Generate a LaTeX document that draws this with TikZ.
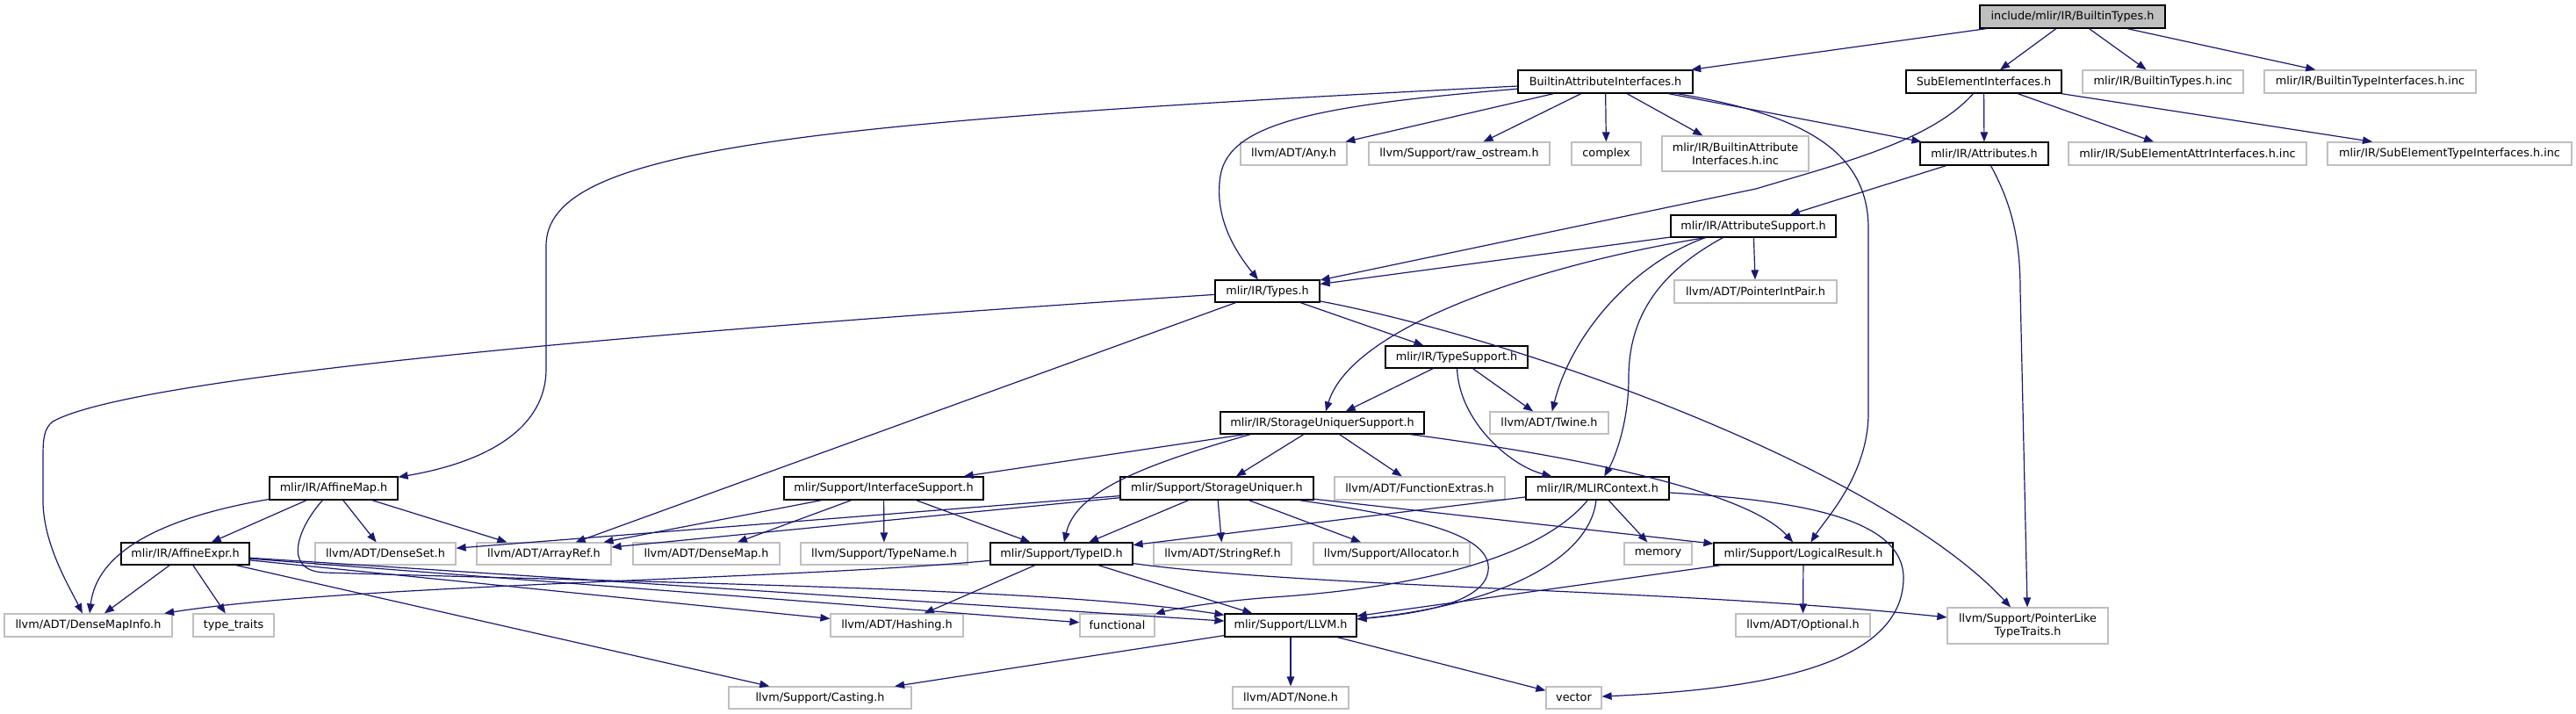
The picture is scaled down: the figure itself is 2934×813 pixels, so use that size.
\documentclass[tikz,border=0pt]{standalone}
\usepackage{fontspec}
\setmainfont{DejaVu Sans}
\usetikzlibrary{arrows.meta}
\definecolor{eblue}{HTML}{191970}
\definecolor{gborder}{HTML}{BFBFBF}
\definecolor{rootfill}{HTML}{BFBFBF}
\tikzset{
  box/.style={rectangle, inner sep=0pt, align=center, text=black, line width=1.2pt,
    font=\fontsize{12.8pt}{15.5pt}\selectfont},
  nb/.style={box, draw=black},
  ng/.style={box, draw=gborder},
  nroot/.style={box, draw=black, fill=rootfill},
  edge/.style={draw=eblue, line width=1.2pt, -{Triangle[length=11pt,width=8.5pt]}},
}
\begin{document}
\begin{tikzpicture}[x=1pt,y=-1pt]
\useasboundingbox (0,0) rectangle (2934,813);
% row 0
\node[nroot, minimum width=211pt, minimum height=26pt] (root) at (2360.5,19) {include/mlir/IR/BuiltinTypes.h};
% row 1
\node[nb, minimum width=199pt, minimum height=26pt] (bai) at (1828.5,93) {BuiltinAttributeInterfaces.h};
\node[nb, minimum width=177pt, minimum height=26pt] (sei) at (2259.5,93) {SubElementInterfaces.h};
\node[ng, minimum width=183pt, minimum height=26pt] (btinc) at (2463.5,93) {mlir/IR/BuiltinTypes.h.inc};
\node[ng, minimum width=241pt, minimum height=26pt] (btiinc) at (2699.5,93) {mlir/IR/BuiltinTypeInterfaces.h.inc};
% row 2
\node[ng, minimum width=121pt, minimum height=26pt] (any) at (1473.5,175) {llvm/ADT/Any.h};
\node[ng, minimum width=206pt, minimum height=26pt] (raw) at (1662,175) {llvm/Support/raw\_ostream.h};
\node[ng, minimum width=79pt, minimum height=26pt] (complex) at (1829.5,175) {complex};
\node[ng, minimum width=167pt, minimum height=40pt] (baiinc) at (1976.5,175) {mlir/IR/BuiltinAttribute\\Interfaces.h.inc};
\node[nb, minimum width=146pt, minimum height=26pt] (attr) at (2260,175) {mlir/IR/Attributes.h};
\node[ng, minimum width=271pt, minimum height=26pt] (seainc) at (2491.5,175) {mlir/IR/SubElementAttrInterfaces.h.inc};
\node[ng, minimum width=278pt, minimum height=26pt] (setinc) at (2790,175) {mlir/IR/SubElementTypeInterfaces.h.inc};
% row 3
\node[nb, minimum width=188pt, minimum height=25pt] (attrsup) at (1997,257.5) {mlir/IR/AttributeSupport.h};
% row 4
\node[nb, minimum width=119pt, minimum height=25pt] (types) at (1443.5,331.5) {mlir/IR/Types.h};
\node[ng, minimum width=185pt, minimum height=26pt] (pip) at (1999.5,332) {llvm/ADT/PointerIntPair.h};
% row 5
\node[nb, minimum width=162pt, minimum height=25pt] (typesup) at (1659,406.5) {mlir/IR/TypeSupport.h};
% row 6
\node[nb, minimum width=232pt, minimum height=25pt] (sus) at (1506,481.5) {mlir/IR/StorageUniquerSupport.h};
\node[ng, minimum width=135pt, minimum height=25pt] (twine) at (1764.5,481.5) {llvm/ADT/Twine.h};
% row 7
\node[nb, minimum width=146pt, minimum height=26pt] (affmap) at (380,556) {mlir/IR/AffineMap.h};
\node[nb, minimum width=227pt, minimum height=26pt] (ifsup) at (1006.5,556) {mlir/Support/InterfaceSupport.h};
\node[nb, minimum width=220pt, minimum height=26pt] (su) at (1386,556) {mlir/Support/StorageUniquer.h};
\node[ng, minimum width=194pt, minimum height=26pt] (fext) at (1617,556) {llvm/ADT/FunctionExtras.h};
\node[nb, minimum width=163pt, minimum height=26pt] (ctx) at (1819.5,556) {mlir/IR/MLIRContext.h};
% row 8
\node[nb, minimum width=146pt, minimum height=25pt] (affexpr) at (211,630.5) {mlir/IR/AffineExpr.h};
\node[ng, minimum width=160pt, minimum height=25pt] (dset) at (439,630.5) {llvm/ADT/DenseSet.h};
\node[ng, minimum width=153pt, minimum height=25pt] (aref) at (619.5,630.5) {llvm/ADT/ArrayRef.h};
\node[ng, minimum width=167pt, minimum height=25pt] (dmap) at (804.5,630.5) {llvm/ADT/DenseMap.h};
\node[ng, minimum width=190pt, minimum height=25pt] (tname) at (1007,630.5) {llvm/Support/TypeName.h};
\node[nb, minimum width=162pt, minimum height=25pt] (typeid) at (1209,630.5) {mlir/Support/TypeID.h};
\node[ng, minimum width=157pt, minimum height=25pt] (sref) at (1392.5,630.5) {llvm/ADT/StringRef.h};
\node[ng, minimum width=178pt, minimum height=25pt] (alloc) at (1585,630.5) {llvm/Support/Allocator.h};
\node[ng, minimum width=77pt, minimum height=25pt] (memory) at (1888.5,630.5) {memory};
\node[nb, minimum width=204pt, minimum height=25pt] (lres) at (2054,630.5) {mlir/Support/LogicalResult.h};
% row 9
\node[ng, minimum width=191pt, minimum height=26pt] (dmi) at (100.5,712) {llvm/ADT/DenseMapInfo.h};
\node[ng, minimum width=92pt, minimum height=26pt] (ttraits) at (266,712) {type\_traits};
\node[ng, minimum width=151pt, minimum height=26pt] (hashing) at (1021.5,712) {llvm/ADT/Hashing.h};
\node[ng, minimum width=85pt, minimum height=26pt] (functional) at (1272.5,712) {functional};
\node[nb, minimum width=150pt, minimum height=26pt] (llvm) at (1470,712) {mlir/Support/LLVM.h};
\node[ng, minimum width=153pt, minimum height=26pt] (optional) at (2053.5,712) {llvm/ADT/Optional.h};
\node[ng, minimum width=183pt, minimum height=41pt] (plt) at (2309.5,712.5) {llvm/Support/PointerLike\\TypeTraits.h};
% row 10
\node[ng, minimum width=208pt, minimum height=25pt] (casting) at (934,794.5) {llvm/Support/Casting.h};
\node[ng, minimum width=132pt, minimum height=25pt] (none) at (1470,794.5) {llvm/ADT/None.h};
\node[ng, minimum width=63pt, minimum height=25pt] (vector) at (1792.5,794.5) {vector};

% ---------- edges ----------
\draw[edge] (root) -- (bai);
\draw[edge] (root) -- (sei);
\draw[edge] (root) -- (btinc);
\draw[edge] (root) -- (btiinc);

\draw[edge] (bai) .. controls (900,140) and (622,170) .. (622,280) -- (622,420) .. controls (622,485) and (560,525) .. (affmap);
\draw[edge] (bai) .. controls (1500,120) and (1400,140) .. (1390,200) .. controls (1382,250) and (1410,290) .. (types);
\draw[edge] (bai) -- (any);
\draw[edge] (bai) -- (raw);
\draw[edge] (bai) -- (complex);
\draw[edge] (bai) -- (baiinc);
\draw[edge] (bai) -- (attr);
\draw[edge] (bai) .. controls (2050,130) and (2128,170) .. (2128,260) -- (2128,470) .. controls (2128,540) and (2080,590) .. (lres);

\draw[edge] (sei) -- (attr);
\draw[edge] (sei) -- (seainc);
\draw[edge] (sei) -- (setinc);
\draw[edge] (sei) .. controls (2200,160) and (2100,185) .. (2000,215) -- (types);

\draw[edge] (attr) -- (attrsup);
\draw[edge] (attr) .. controls (2290,230) and (2301,270) .. (2301,330) -- (plt);

\draw[edge] (attrsup) -- (types);
\draw[edge] ([xshift=40pt]attrsup.south west) .. controls (1760,300) and (1540,370) .. (sus);
\draw[edge] ([xshift=40pt]attrsup.south west) .. controls (1860,300) and (1790,380) .. (twine);
\draw[edge] ([xshift=60pt]attrsup.south west) .. controls (1890,310) and (1855,360) .. (1855,430) .. controls (1855,480) and (1840,520) .. (ctx);
\draw[edge] (attrsup) -- (pip);

\draw[edge] (types) .. controls (700,380) and (150,430) .. (60,480) .. controls (50,488) and (49,500) .. (49,520) -- (49,570) .. controls (49,620) and (80,670) .. (dmi);
\draw[edge] (types) -- (aref);
\draw[edge] (types) -- (typesup);
\draw[edge] (types) .. controls (1750,390) and (2150,540) .. (plt);

\draw[edge] (typesup) -- (sus);
\draw[edge] (typesup) -- (twine);
\draw[edge] (typesup) .. controls (1662,480) and (1720,530) .. (ctx);

\draw[edge] (sus) -- (ifsup);
\draw[edge] ([xshift=35pt]sus.south west) .. controls (1300,530) and (1225,560) .. (typeid);
\draw[edge] (sus) -- (su);
\draw[edge] (sus) -- (fext);
\draw[edge] (sus) .. controls (1800,520) and (1990,560) .. (lres);

\draw[edge] (ifsup) -- (aref);
\draw[edge] (ifsup) -- (dmap);
\draw[edge] (ifsup) -- (tname);
\draw[edge] (ifsup) -- (typeid);

\draw[edge] (su) -- (dset);
\draw[edge] (su) -- (aref);
\draw[edge] (su) -- (typeid);
\draw[edge] (su) -- (sref);
\draw[edge] (su) -- (alloc);
\draw[edge] (su) .. controls (1620,590) and (1700,610) .. (1695,650) .. controls (1690,690) and (1600,700) .. (llvm);
\draw[edge] (su) -- (lres);

\draw[edge] (ctx) -- (typeid);
\draw[edge] (ctx) .. controls (1750,640) and (1600,670) .. (1450,680) .. controls (1380,685) and (1330,695) .. (functional);
\draw[edge] (ctx) .. controls (1810,640) and (1700,690) .. (llvm);
\draw[edge] (ctx) -- (memory);
\draw[edge] (ctx) .. controls (2050,570) and (2170,590) .. (2168,660) .. controls (2165,760) and (2000,785) .. (vector);

\draw[edge] (typeid) .. controls (900,660) and (400,665) .. (dmi);
\draw[edge] (typeid) -- (hashing);
\draw[edge] (typeid) -- (llvm);
\draw[edge] (typeid) .. controls (1500,670) and (1900,670) .. (plt);

\draw[edge] (lres) -- (optional);
\draw[edge] (lres) -- (llvm);

\draw[edge] (llvm) -- (casting);
\draw[edge] (llvm) -- (none);
\draw[edge] (llvm) -- (vector);

\draw[edge] (affmap) .. controls (180,590) and (110,630) .. (dmi);
\draw[edge] (affmap) -- (affexpr);
\draw[edge] (affmap) -- (dset);
\draw[edge] (affmap) -- (aref);
\draw[edge] ([xshift=61pt]affmap.south west) .. controls (340,600) and (320,650) .. (370,652) .. controls (800,665) and (1200,670) .. (llvm);

\draw[edge] (affexpr) -- (dmi);
\draw[edge] (affexpr) -- (ttraits);
\draw[edge] (affexpr) -- (casting);
\draw[edge] (affexpr) -- (hashing);
\draw[edge] (affexpr) -- (functional);
\draw[edge] (affexpr) -- (llvm);
\end{tikzpicture}
\end{document}
